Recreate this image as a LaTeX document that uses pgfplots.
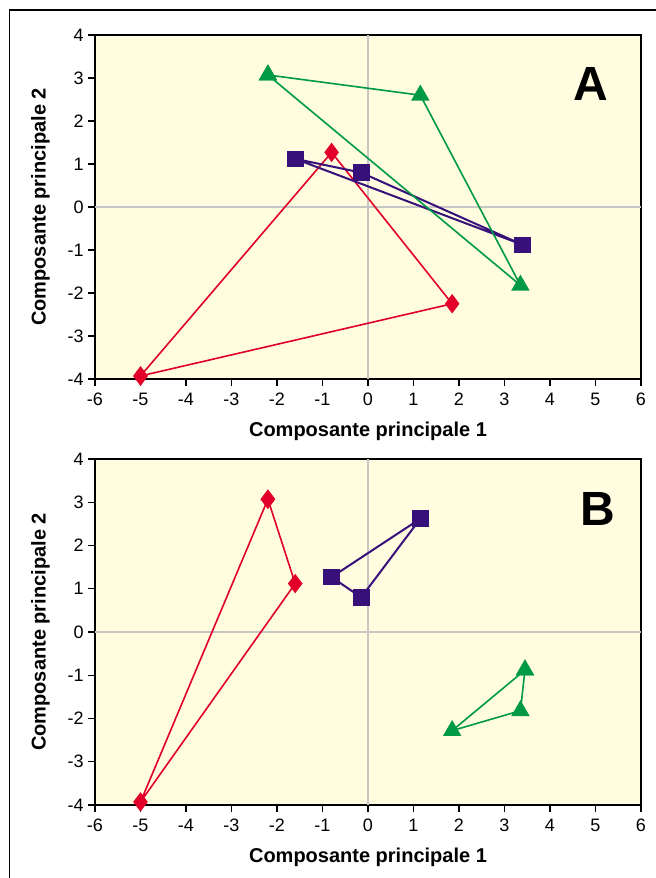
\documentclass[border=0pt]{standalone}
\usepackage{pgfplots}
\pgfplotsset{compat=1.18}
\usepackage{fontspec}
\setmainfont{Liberation Sans}
\definecolor{bgyel}{RGB}{255,252,224}
\definecolor{cred}{RGB}{226,0,40}
\definecolor{cpur}{RGB}{56,16,122}
\definecolor{cgrn}{RGB}{0,154,68}

\pgfplotsset{
  pca/.style={
    scale only axis, width=409.5pt,
    xmin=-6, xmax=6, ymin=-4, ymax=4,
    axis background/.style={fill=bgyel},
    axis line style={line width=1.2pt},
    xtick={-6,...,6}, ytick={-4,...,4},
    xticklabels={-6,-5,-4,-3,-2,-1,0,1,2,3,4,5,6},
    yticklabels={-4,-3,-2,-1,0,1,2,3,4},
    tick align=outside, xtick pos=bottom, ytick pos=left,
    major tick length=5pt,
    tick style={line width=0.9pt, black},
    ticklabel style={font=\fontsize{13.5}{14}\selectfont},
    xticklabel style={yshift=-2pt},
    extra x ticks={0}, extra y ticks={0},
    extra x tick labels={}, extra y tick labels={},
    extra tick style={grid=major, major tick length=0pt, major grid style={gray!45, line width=0.9pt}},
    xlabel={Composante principale 1}, ylabel={Composante principale 2},
    label style={font=\bfseries\fontsize{15}{16}\selectfont},
    xlabel style={at={(axis description cs:0.5,0)}, anchor=center, yshift=-39.5pt},
    ylabel style={at={(axis description cs:0,0.5)}, anchor=center, yshift=41pt},
    clip=false,
  },
  rser/.style={cred, line width=1.2pt, mark=diamond*, mark size=6.3pt, mark options={solid, fill=cred}},
  pser/.style={cpur, line width=1.5pt, mark=square*, mark size=5.5pt, mark options={solid, fill=cpur}},
  gser/.style={cgrn, line width=1.2pt, mark=triangle*, mark size=6.8pt, mark options={solid, fill=cgrn}},
}

\begin{document}
\begin{tikzpicture}
\useasboundingbox (0pt,0pt) rectangle (492pt,658.5pt);
\draw[line width=1.1pt] (7.1pt,-5pt) -- (7.1pt,651pt) -- (500pt,651pt);

% panel A
\begin{axis}[pca, height=258pt, at={(71.25pt,374.25pt)}, anchor=south west]
  \addplot [rser] coordinates {(-5,-3.93) (-0.8,1.27) (1.85,-2.25) (-5,-3.93)};
  \addplot [pser] coordinates {(-1.6,1.12) (-0.15,0.8) (3.4,-0.88) (-1.6,1.12)};
  \addplot [gser] coordinates {(-2.2,3.07) (1.15,2.6) (3.35,-1.82) (-2.2,3.07)};
  \node[font=\bfseries\fontsize{36}{36}\selectfont] at (axis cs:4.9,2.85) {A};
\end{axis}

% panel B
\begin{axis}[pca, height=259.5pt, at={(71.25pt,54.75pt)}, anchor=south west]
  \addplot [rser] coordinates {(-2.2,3.07) (-1.6,1.12) (-5,-3.93) (-2.2,3.07)};
  \addplot [pser] coordinates {(1.15,2.62) (-0.8,1.27) (-0.15,0.8) (1.15,2.62)};
  \addplot [gser] coordinates {(3.45,-0.88) (3.35,-1.82) (1.85,-2.28) (3.45,-0.88)};
  \node[font=\bfseries\fontsize{36}{36}\selectfont] at (axis cs:5.05,2.85) {B};
\end{axis}
\end{tikzpicture}
\end{document}
